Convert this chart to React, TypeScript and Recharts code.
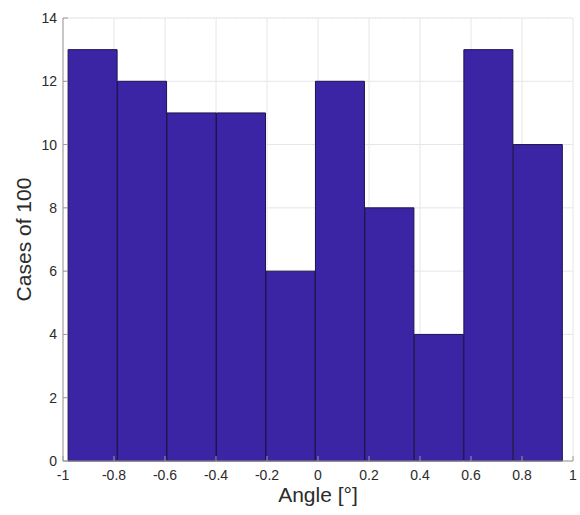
import { Bar, BarChart, CartesianGrid, Label, XAxis, YAxis } from "recharts";

// histogram: 10 bins between -0.98 and 0.96
const binEdges = [-0.98, -0.786, -0.592, -0.398, -0.204, -0.01, 0.184, 0.378, 0.572, 0.766, 0.96];
const counts = [13, 12, 11, 11, 6, 12, 8, 4, 13, 10];

const xTicks = [-1, -0.8, -0.6, -0.4, -0.2, 0, 0.2, 0.4, 0.6, 0.8, 1];
const yTicks = [0, 2, 4, 6, 8, 10, 12, 14];
const xMinorTicks = Array.from({ length: 41 }, (_, i) => -1 + i * 0.05);
const yMinorTicks = Array.from({ length: 29 }, (_, i) => i * 0.5);

const data = counts.map((count, i) => ({
  center: (binEdges[i] + binEdges[i + 1]) / 2,
  count,
}));

const FONT = "'Liberation Sans', Arial, sans-serif";
const AXIS = "#9a9a9a";
const TEXT = "#2b2b2b";
const blank = () => "";

export default function App() {
  return (
    <div style={{ position: "absolute", left: 0, top: 0, width: 580, height: 515, background: "#fff" }}>
      <BarChart
        width={580}
        height={515}
        data={data}
        margin={{ top: 18, right: 7, bottom: 0, left: 0 }}
        barCategoryGap={0}
        barGap={0}
        style={{ fontFamily: FONT }}
      >
        <CartesianGrid yAxisId="lMinor" vertical={false} stroke="#dedede" strokeDasharray="1 2" />
        <CartesianGrid stroke="#e6e6e6" />

        {/* minor / box axes, no labels */}
        <YAxis yAxisId="lMinor" orientation="left" mirror width={0} type="number" domain={[0, 14]}
          ticks={yMinorTicks} tickSize={3} tickFormatter={blank} axisLine={false} tickLine={{ stroke: AXIS }} />
        <YAxis yAxisId="rMinor" orientation="right" mirror width={0} type="number" domain={[0, 14]}
          ticks={yMinorTicks} tickSize={3} tickFormatter={blank} axisLine={{ stroke: AXIS }} tickLine={{ stroke: AXIS }} />
        <YAxis yAxisId="rMajor" orientation="right" mirror width={0} type="number" domain={[0, 14]}
          ticks={yTicks} tickSize={5} tickFormatter={blank} axisLine={false} tickLine={{ stroke: AXIS }} />
        <XAxis xAxisId="bMinor" orientation="bottom" mirror height={0} type="number" domain={[-1, 1]}
          ticks={xMinorTicks} tickSize={3} tickFormatter={blank} axisLine={false} tickLine={{ stroke: AXIS }} />
        <XAxis xAxisId="tMinor" orientation="top" mirror height={0} type="number" domain={[-1, 1]}
          ticks={xMinorTicks} tickSize={3} tickFormatter={blank} axisLine={{ stroke: AXIS }} tickLine={{ stroke: AXIS }} />
        <XAxis xAxisId="tMajor" orientation="top" mirror height={0} type="number" domain={[-1, 1]}
          ticks={xTicks} tickSize={5} tickFormatter={blank} axisLine={false} tickLine={{ stroke: AXIS }} />

        <XAxis
          dataKey="center"
          type="number"
          domain={[-1, 1]}
          ticks={xTicks}
          interval={0}
          height={54}
          tickSize={-5}
          tickMargin={14}
          axisLine={{ stroke: AXIS }}
          tickLine={{ stroke: AXIS }}
          tick={{ fill: TEXT, fontSize: 14 }}
        >
          <Label value="Angle [°]" position="insideBottom" offset={13} fill={TEXT} fontSize={21} />
        </XAxis>
        <YAxis
          type="number"
          domain={[0, 14]}
          ticks={yTicks}
          interval={0}
          width={63}
          tickSize={-5}
          tickMargin={11}
          axisLine={{ stroke: AXIS }}
          tickLine={{ stroke: AXIS }}
          tick={{ fill: TEXT, fontSize: 14 }}
        >
          <Label value="Cases of 100" angle={-90} position="center" dx={-8} fill={TEXT} fontSize={21} />
        </YAxis>

        <Bar dataKey="count" fill="#3c25a4" stroke="#1c1450" strokeWidth={1} isAnimationActive={false} />
      </BarChart>
    </div>
  );
}
